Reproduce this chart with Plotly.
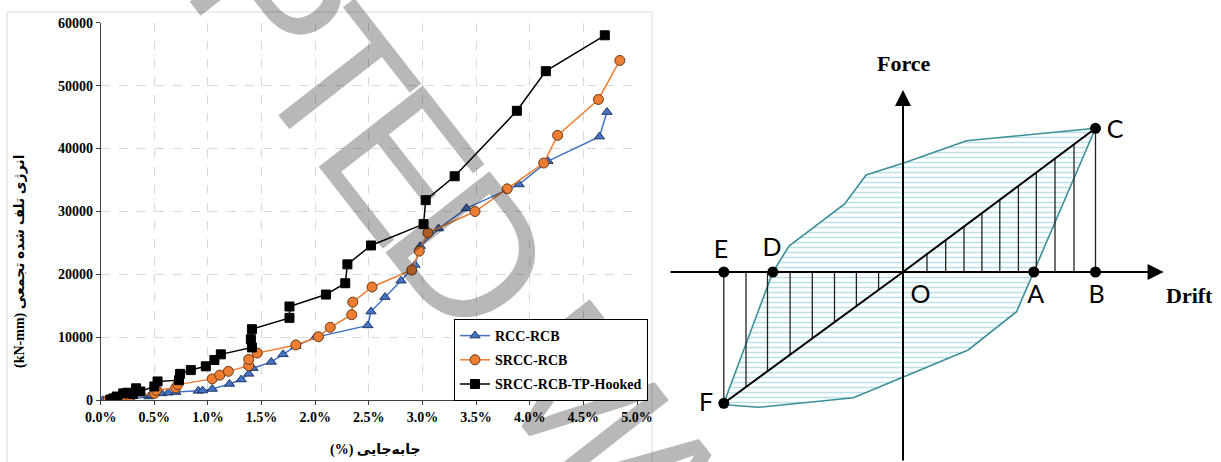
import numpy as np
import plotly.graph_objects as go

# ---------------- Left chart data: drift (%) vs cumulative dissipated energy (kN-mm)
rcc_drift = [0.02, 0.22, 0.28, 0.45, 0.47, 0.57, 0.63, 0.70, 0.91, 0.95, 1.04, 1.20, 1.31, 1.38, 1.42,
             1.59, 1.70, 1.82, 2.00, 2.49, 2.52, 2.65, 2.80, 2.93, 2.98, 3.15, 3.41, 3.90, 4.17, 4.65, 4.72]
rcc_energy = [0, 100, 200, 600, 800, 1100, 1200, 1300, 1500, 1550, 1800, 2600, 3300, 4200, 5100,
              6100, 7300, 8600, 10000, 11900, 14100, 16400, 19000, 21500, 24500, 27300, 30500, 34300, 38000, 41900, 45800]

srcc_drift = [0.07, 0.25, 0.27, 0.50, 0.52, 0.70, 0.72, 1.04, 1.11, 1.19, 1.38, 1.38, 1.46, 1.82,
              2.03, 2.14, 2.34, 2.35, 2.53, 2.90, 2.97, 3.05, 3.49, 3.79, 4.13, 4.26, 4.64, 4.84]
srcc_energy = [50, 400, 700, 1100, 1600, 2000, 2500, 3400, 4000, 4600, 5500, 6500, 7500, 8800,
               10100, 11600, 13600, 15600, 18000, 20700, 23700, 26600, 30000, 33600, 37700, 42100, 47800, 54000]

tp_drift = [0.09, 0.12, 0.15, 0.21, 0.25, 0.30, 0.33, 0.37, 0.50, 0.53, 0.73, 0.74, 0.84, 0.98, 1.06,
            1.12, 1.41, 1.40, 1.41, 1.76, 1.76, 2.10, 2.28, 2.30, 2.52, 3.01, 3.03, 3.30, 3.88, 4.15, 4.70]
tp_energy = [100, 300, 600, 1100, 1200, 1000, 1900, 1400, 2200, 3000, 3200, 4200, 4800, 5400, 6400,
             7300, 8400, 9700, 11300, 13100, 14900, 16800, 18600, 21600, 24600, 28000, 31800, 35600, 46000, 52300, 58000]

series_names = ["RCC-RCB", "SRCC-RCB", "SRCC-RCB-TP-Hooked"]
x_title = "(%) جابه\u200cجایی"
y_title = "(kN-mm) انرژی تلف شده تجمعی"
watermark = "ACCEPTED MANUSCRIPT"

# ---------------- Right schematic data (diagram units)
loop_u = [192.5, 63.5, 4.3, -36.9, -58.4, -114, -130.1, -179.2, -174.9, -144.4, -49.5, 65.2, 113.6, 130.8, 192.5]
loop_v = [143.7, 131.3, 110.3, 97, 68, 26, 0, -131.3, -133, -135.3, -125.7, -78, -39.7, 0, 143.7]
diag_u = [-179.2, 0, 192.5]
diag_v = [-131.3, 0, 143.7]
hatch_u = [-179.2, -157, -135.5, -112.9, -90.7, -68.5, -46.6, -24.4,
           24, 42.7, 61, 78.9, 96.8, 115.4, 133.3, 152, 171, 192.5]
pt_u = [-179.2, -130.1, 130.8, 192.5, 192.5, -179.2]
pt_v = [0, 0, 0, 0, 143.7, -131.3]
lbl_names = ["E", "D", "O", "A", "B", "C", "F"]
lbl_u = [-182, -131, 17.6, 132.6, 193.5, 212, -197]
lbl_v = [20, 22, -24.7, -24.7, -24.7, 140, -133]

SERIF = "Times New Roman, Liberation Serif, DejaVu Serif, serif"
ARAB = "Times New Roman, Liberation Serif, DejaVu Sans, sans-serif"

fig = go.Figure()

fig.add_trace(go.Scatter(x=rcc_drift, y=rcc_energy, name=series_names[0], mode="lines+markers",
                         legendgroup="a",
                         line=dict(color="#4472C4", width=1.5),
                         marker=dict(symbol="triangle-up", size=9, color="#4472C4",
                                     line=dict(color="#203864", width=1))))
fig.add_trace(go.Scatter(x=srcc_drift, y=srcc_energy, name=series_names[1], mode="lines+markers",
                         legendgroup="b",
                         line=dict(color="#ED7D31", width=1.5),
                         marker=dict(symbol="circle", size=10, color="#ED7D31",
                                     line=dict(color="#6B3A17", width=1))))
fig.add_trace(go.Scatter(x=tp_drift, y=tp_energy, name=series_names[2], mode="lines+markers",
                         legendgroup="c",
                         line=dict(color="black", width=1.5),
                         marker=dict(symbol="square", size=9, color="black",
                                     line=dict(color="black", width=1))))

# ---- schematic
fig.add_trace(go.Scatter(x=loop_u, y=loop_v, xaxis="x2", yaxis="y2", mode="lines", fill="toself",
                         fillcolor="white",
                         fillpattern=dict(shape="-", fgcolor="#74C2D0", bgcolor="white", size=5, solidity=0.3),
                         line=dict(color="#3C8F98", width=1.6), showlegend=False, hoverinfo="skip"))
hx, hy = [], []
for u in hatch_u:
    hx += [u, u, None]
    hy += [0, float(np.interp(u, diag_u, diag_v)), None]
fig.add_trace(go.Scatter(x=hx, y=hy, xaxis="x2", yaxis="y2", mode="lines",
                         line=dict(color="#222222", width=1.3), showlegend=False, hoverinfo="skip"))
fig.add_trace(go.Scatter(x=diag_u, y=diag_v, xaxis="x2", yaxis="y2", mode="lines",
                         line=dict(color="black", width=2), showlegend=False, hoverinfo="skip"))
fig.add_trace(go.Scatter(x=pt_u, y=pt_v, xaxis="x2", yaxis="y2", mode="markers",
                         marker=dict(color="black", size=11), showlegend=False, hoverinfo="skip"))
fig.add_trace(go.Scatter(x=lbl_u, y=lbl_v, text=lbl_names, xaxis="x2", yaxis="y2", mode="text",
                         textfont=dict(family="Lato, Open Sans, sans-serif", size=25, color="black"),
                         showlegend=False, hoverinfo="skip"))

W, H = 1221, 462
axis_font = dict(family=SERIF, size=14, color="black", weight="bold")
fig.update_layout(
    width=W, height=H, margin=dict(l=0, r=0, t=0, b=0, autoexpand=False),
    paper_bgcolor="white", plot_bgcolor="white",
    xaxis=dict(domain=[100.7 / W, 637 / W], range=[0, 5], dtick=0.5, tickformat=".1f", ticksuffix="%",
               showgrid=True, gridcolor="#d9d9d9", griddash="dash", gridwidth=1,
               showline=True, linecolor="#404040", linewidth=1, ticks="outside", ticklen=4,
               tickcolor="#404040", zeroline=False, tickfont=axis_font, anchor="y", automargin=False),
    yaxis=dict(domain=[1 - 400.3 / H, 1 - 22.7 / H], range=[0, 60000], dtick=10000, tickformat="d",
               showgrid=True, gridcolor="#d9d9d9", griddash="dash", gridwidth=1,
               showline=True, linecolor="#404040", linewidth=1, ticks="outside", ticklen=4,
               tickcolor="#404040", zeroline=False, tickfont=axis_font, anchor="x", automargin=False),
    xaxis2=dict(domain=[660 / W, 1], range=[-243, 318], visible=False, anchor="y2"),
    yaxis2=dict(domain=[0, 1], range=[-190, 272], visible=False, anchor="x2"),
    legend=dict(x=454 / W, y=1 - 319 / H, xanchor="left", yanchor="top",
                bordercolor="black", borderwidth=1, bgcolor="white",
                font=dict(family=SERIF, size=14, color="black", weight="bold"),
                itemwidth=30, tracegroupgap=3),
    showlegend=True,
)

# outer chart frame
fig.add_shape(type="rect", xref="paper", yref="paper", x0=7 / W, x1=652 / W, y0=-0.05, y1=1 - 12 / H,
              line=dict(color="#d9d9d9", width=1), layer="below")

# axis titles
fig.add_annotation(text=y_title, xref="paper", yref="paper", x=20 / W, y=1 - 262 / H, textangle=-90,
                   xanchor="center", yanchor="middle",
                   showarrow=False, font=dict(family=ARAB, size=14, color="black", weight="bold"))
fig.add_annotation(text=x_title, xref="paper", yref="paper", x=375 / W, y=1 - 450 / H,
                   xanchor="center", yanchor="middle",
                   showarrow=False, font=dict(family=ARAB, size=14, color="black", weight="bold"))

# schematic axes with arrows
fig.add_annotation(x=260.6, y=0, ax=-234, ay=0, xref="x2", yref="y2", axref="x2", ayref="y2",
                   text="", showarrow=True, arrowhead=2, arrowsize=1.6, arrowwidth=2, arrowcolor="black")
fig.add_annotation(x=0, y=182, ax=0, ay=-190, xref="x2", yref="y2", axref="x2", ayref="y2",
                   text="", showarrow=True, arrowhead=2, arrowsize=1.6, arrowwidth=2, arrowcolor="black")
fig.add_annotation(x=0.7, y=209, xref="x2", yref="y2", text="Force", showarrow=False,
                   xanchor="center", yanchor="middle",
                   font=dict(family=SERIF, size=22, color="black", weight="bold"))
fig.add_annotation(x=286.6, y=-23, xref="x2", yref="y2", text="Drift", showarrow=False,
                   xanchor="center", yanchor="middle",
                   font=dict(family=SERIF, size=22, color="black", weight="bold"))

# watermark: letters placed along a rotated baseline (condensed advance), drawn as shape labels;
# only the letters that reach into the picture are drawn
glyph_adv = {"A": .667, "C": .722, "E": .667, "P": .667, "T": .611, "D": .722, " ": .278,
             "M": .833, "N": .722, "U": .722, "S": .667, "R": .722, "I": .278}
ang = np.deg2rad(52)
rd = np.array([np.cos(ang), np.sin(ang)])      # reading direction (screen px, y down)
up = np.array([np.sin(ang), -np.cos(ang)])     # letter "up" direction
em_adv = 164.0
s = -344.0
p = 233.0
for ch in watermark:
    w = glyph_adv[ch] * em_adv
    if ch != " ":
        c = rd * (s + w / 2) + up * p
        if -90 < c[0] < W + 90 and -90 < c[1] < H + 90:
            fig.add_shape(type="line", xref="paper", yref="paper",
                          x0=(c[0] - rd[0]) / W, y0=1 - (c[1] - rd[1]) / H,
                          x1=(c[0] + rd[0]) / W, y1=1 - (c[1] + rd[1]) / H,
                          line=dict(color="rgba(0,0,0,0)", width=1), layer="above",
                          label=dict(text=ch, textposition="middle", textangle=52,
                                     xanchor="center", yanchor="middle",
                                     font=dict(family="Liberation Sans, Arial, sans-serif",
                                               size=192, color="rgba(0,0,0,0.28)")))
    s += w

fig.write_html("out.html", config={"displayModeBar": False},
               post_script="document.body.style.margin='0';document.body.style.overflow='hidden';")
